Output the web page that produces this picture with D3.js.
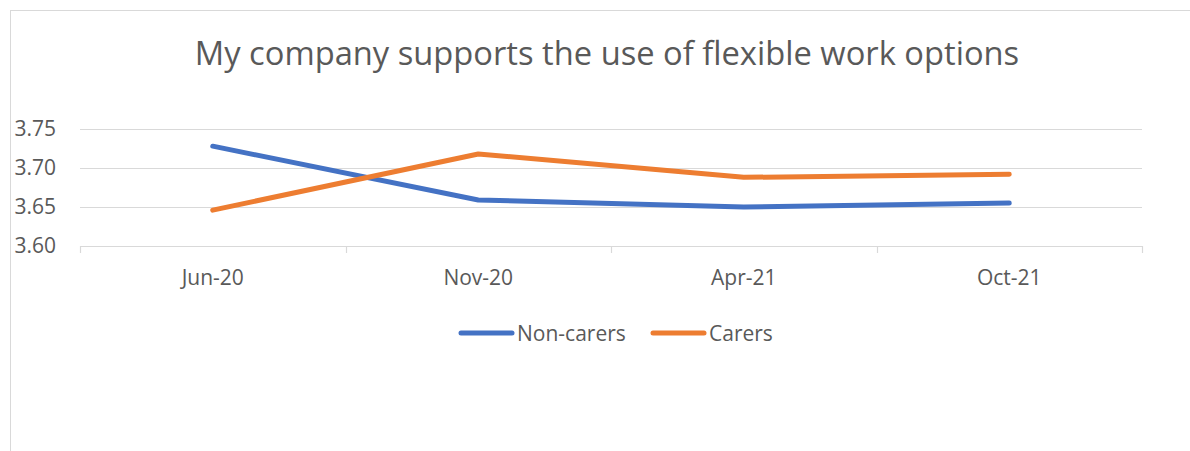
<!DOCTYPE html>
<html>
<head>
<meta charset="utf-8">
<script src="https://cdn.jsdelivr.net/npm/d3@7"></script>
<style>
  body { margin: 0; background: #fff; }
  text { font-family: "Open Sans", "Liberation Sans", sans-serif; fill: #595959; }
</style>
</head>
<body>
<div class="chart"></div>
<script>
var categories = ['Jun-20', 'Nov-20', 'Apr-21', 'Oct-21'];
var nonCarers = [3.728, 3.659, 3.650, 3.655];
var carers = [3.646, 3.718, 3.688, 3.692];
var yTicks = [3.60, 3.65, 3.70, 3.75];
var seriesNames = ['Non-carers', 'Carers'];

var svgWidth = 1190,
    svgHeight = 451;
// plot area
var plotLeft = 80, plotRight = 1142, plotTop = 129, plotBottom = 246;
var colors = ['#4472C4', '#ED7D31'];

var svg = d3.select('.chart')
    .append('svg')
    .attr('width', svgWidth)
    .attr('height', svgHeight);

// chart frame
svg.append('rect')
    .attr('x', 10.5)
    .attr('y', 10.5)
    .attr('width', 1300)
    .attr('height', 600)
    .style('fill', 'none')
    .style('stroke', '#d9d9d9')
    .style('stroke-width', 1);

// title
svg.append('text')
    .attr('x', 607)
    .attr('y', 65)
    .attr('text-anchor', 'middle')
    .style('font-size', '32.7px')
    .text('My company supports the use of flexible work options');

var xScale = d3.scaleBand()
    .domain(categories)
    .range([plotLeft, plotRight]);

var yScale = d3.scaleLinear()
    .domain([3.60, 3.75])
    .range([plotBottom, plotTop]);

// horizontal grid lines
svg.append('g')
    .selectAll('line')
    .data(yTicks)
    .enter()
    .append('line')
    .attr('x1', plotLeft)
    .attr('x2', plotRight)
    .attr('y1', function(d) { return Math.round(yScale(d)) + 0.5; })
    .attr('y2', function(d) { return Math.round(yScale(d)) + 0.5; })
    .style('stroke', '#d9d9d9')
    .style('stroke-width', 1.2);

// y labels
svg.append('g')
    .selectAll('text')
    .data(yTicks)
    .enter()
    .append('text')
    .attr('x', 56)
    .attr('y', function(d) { return yScale(d) + 7; })
    .attr('text-anchor', 'end')
    .style('font-size', '21px')
    .text(function(d) { return d.toFixed(2); });

// x axis tick marks
var tickPos = categories.map(function(c) { return xScale(c); }).concat([plotRight]);
svg.append('g')
    .selectAll('line')
    .data(tickPos)
    .enter()
    .append('line')
    .attr('x1', function(d) { return Math.round(d) + 0.5; })
    .attr('x2', function(d) { return Math.round(d) + 0.5; })
    .attr('y1', yScale(3.60))
    .attr('y2', yScale(3.60) + 7)
    .style('stroke', '#d9d9d9')
    .style('stroke-width', 1.2);

// x labels
svg.append('g')
    .selectAll('text')
    .data(categories)
    .enter()
    .append('text')
    .attr('x', function(d) { return xScale(d) + xScale.bandwidth() / 2; })
    .attr('y', 285)
    .attr('text-anchor', 'middle')
    .style('font-size', '21px')
    .text(function(d) { return d; });

// lines
var line = d3.line()
    .x(function(d, i) { return xScale(categories[i]) + xScale.bandwidth() / 2; })
    .y(function(d) { return yScale(d); });

[nonCarers, carers].forEach(function(values, k) {
    svg.append('path')
        .datum(values)
        .attr('d', line)
        .style('fill', 'none')
        .style('stroke', colors[k])
        .style('stroke-width', 5)
        .style('stroke-linecap', 'round')
        .style('stroke-linejoin', 'round');
});

// legend
var legendX = [459, 651];
var legend = svg.append('g');
seriesNames.forEach(function(name, k) {
    legend.append('line')
        .attr('x1', legendX[k] + 2)
        .attr('x2', legendX[k] + 53)
        .attr('y1', 333)
        .attr('y2', 333)
        .style('stroke', colors[k])
        .style('stroke-width', 5)
        .style('stroke-linecap', 'round');
    legend.append('text')
        .attr('x', legendX[k] + 58)
        .attr('y', 341)
        .style('font-size', '21px')
        .text(name);
});
</script>
</body>
</html>
